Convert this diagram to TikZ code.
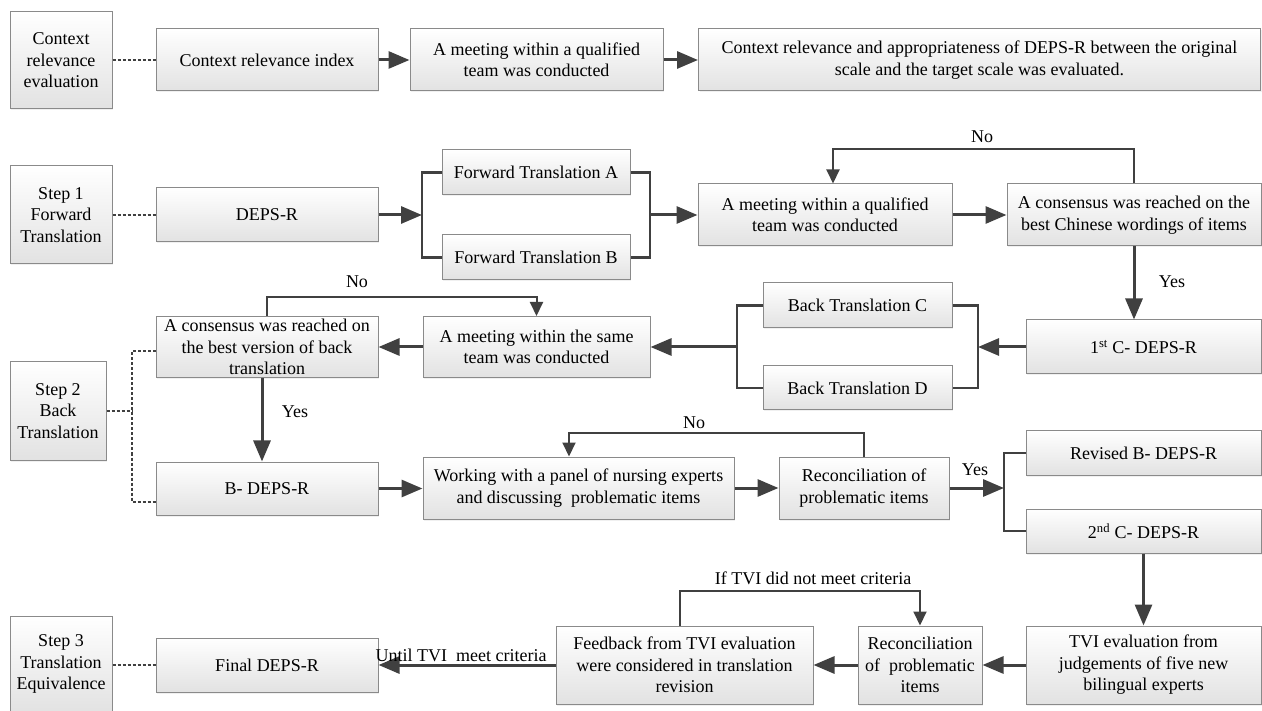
\documentclass[tikz,border=0pt]{standalone}
\usepackage{fontspec}
\setmainfont{Liberation Serif}
\usetikzlibrary{arrows.meta,shadows}
\definecolor{arr}{HTML}{404040}
\definecolor{bord}{HTML}{8A8A8A}
\definecolor{bfill}{HTML}{E2E2E2}
\tikzset{
 box/.style={draw=bord, line width=1pt, top color=white, bottom color=bfill, align=center, inner sep=1pt,
   font=\fontsize{18}{21.5}\selectfont,
   drop shadow={shadow xshift=1pt, shadow yshift=-1.5pt, opacity=0.12}},
 flow/.style={draw=arr, line width=3pt, -{Triangle[length=21pt,width=17pt]}},
 loopar/.style={draw=arr, line width=2pt, -{Triangle[length=14pt,width=13pt]}},
 brk/.style={draw=arr, line width=2.5pt},
 dotline/.style={draw=arr, line width=1.5pt, dash pattern=on 3pt off 2pt},
 lbl/.style={font=\fontsize{18}{21.5}\selectfont, inner sep=1pt}
}
\begin{document}
\begin{tikzpicture}[x=1pt,y=-1pt]
\useasboundingbox (0,0) rectangle (1262,711);
% row 0
\node[box, minimum width=102pt, minimum height=97pt] (cre) at (61,60.5) {Context\\relevance\\evaluation};
\node[box, minimum width=222pt, minimum height=62pt] (cri) at (267,60) {Context relevance index};
\node[box, minimum width=253pt, minimum height=62pt] (meet1) at (536.5,60) {A meeting within a qualified\\team was conducted};
\node[box, minimum width=562pt, minimum height=62pt] (big) at (979.5,60) {Context relevance and appropriateness of DEPS-R between the original\\scale and the target scale was evaluated.};
% row 1
\node[box, minimum width=102pt, minimum height=98pt] (s1) at (61,215) {Step 1\\Forward\\Translation};
\node[box, minimum width=222pt, minimum height=54pt] (deps) at (267,215) {DEPS-R};
\node[box, minimum width=188pt, minimum height=45pt] (fta) at (536,172.5) {Forward Translation A};
\node[box, minimum width=188pt, minimum height=45pt] (ftb) at (536,257.5) {Forward Translation B};
\node[box, minimum width=254pt, minimum height=62pt] (meet2) at (825,215) {A meeting within a qualified\\team was conducted};
\node[box, minimum width=254pt, minimum height=62pt] (cons1) at (1134,215) {A consensus was reached on the\\best Chinese wordings of items};
% row 2
\node[box, minimum width=235pt, minimum height=54pt] (c1) at (1143.5,347) {1\textsuperscript{st} C- DEPS-R};
\node[box, minimum width=189pt, minimum height=45pt] (btc) at (857.5,305.5) {Back Translation C};
\node[box, minimum width=189pt, minimum height=44pt] (btd) at (857.5,388) {Back Translation D};
\node[box, minimum width=227pt, minimum height=61pt] (msame) at (536.5,347) {A meeting within the same\\team was conducted};
\node[box, minimum width=222pt, minimum height=61pt] (cons2) at (267,347) {A consensus was reached on\\the best version of back\\translation};
\node[box, minimum width=96pt, minimum height=98pt] (s2) at (58,411) {Step 2\\Back\\Translation};
% row 3
\node[box, minimum width=222pt, minimum height=53pt] (bdeps) at (267,488.5) {B- DEPS-R};
\node[box, minimum width=311pt, minimum height=62pt] (work) at (578.5,488) {Working with a panel of nursing experts\\and discussing\ \ problematic items};
\node[box, minimum width=170pt, minimum height=62pt] (rec1) at (864,488) {Reconciliation of\\problematic items};
\node[box, minimum width=235pt, minimum height=44pt] (rev) at (1143.5,453) {Revised B- DEPS-R};
\node[box, minimum width=235pt, minimum height=44pt] (c2) at (1143.5,531) {2\textsuperscript{nd} C- DEPS-R};
% row 4
\node[box, minimum width=235pt, minimum height=78pt] (tvi) at (1143.5,665) {TVI evaluation from\\judgements of five new\\bilingual experts};
\node[box, minimum width=124pt, minimum height=78pt] (rec2) at (920,665) {Reconciliation\\of\ \ problematic\\items};
\node[box, minimum width=257pt, minimum height=78pt] (fb) at (684.5,665) {Feedback from TVI evaluation\\were considered in translation\\revision};
\node[box, minimum width=222pt, minimum height=54pt] (fin) at (267,665) {Final DEPS-R};
\node[box, minimum width=102pt, minimum height=96pt] (s3) at (61,664) {Step 3\\Translation\\Equivalence};
% connectors row 0
\draw[dotline] (cri.west -| cre.east) -- (cri.west);
\draw[flow] (cri) -- (meet1);
\draw[flow] (meet1) -- (big);
% row 1
\draw[dotline] (deps.west -| s1.east) -- (deps.west);
\coordinate (bl1) at (422,215);
\coordinate (br1) at (650,215);
\draw[flow] (deps.east) -- (bl1);
\draw[brk] (fta.west) -| (bl1) |- (ftb.west);
\draw[brk] (fta.east) -| (br1) |- (ftb.east);
\draw[flow] (br1) -- (meet2.west);
\draw[flow] (meet2) -- (cons1);
\coordinate (n1) at (833,149);
\draw[loopar] (cons1.north) |- (n1) -- (n1 |- meet2.north);
\node[lbl] (no1) at (982,137) {No};
\draw[flow] (cons1.south) -- (cons1.south |- c1.north);
\node[lbl] (yes1) at (1172,282) {Yes};
% row 2
\coordinate (br2) at (978,347);
\coordinate (bl2) at (737,347);
\draw[flow] (c1.west) -- (br2);
\draw[brk] (btc.east) -| (br2) |- (btd.east);
\draw[brk] (btc.west) -| (bl2) |- (btd.west);
\draw[flow] (bl2) -- (msame.east);
\draw[flow] (msame) -- (cons2);
\coordinate (n2) at (400,297);
\draw[loopar] (cons2.north) |- (n2) -| (msame.north);
\node[lbl] (no2) at (357,282) {No};
\coordinate (yx) at (262,0);
\draw[flow] (yx |- cons2.south) -- (yx |- bdeps.north);
\node[lbl] (yes2) at (295,412) {Yes};
\coordinate (d2) at (132,411);
\coordinate (d2t) at (132,351);
\coordinate (d2b) at (132,502);
\draw[dotline] (s2.east) -- (d2);
\draw[dotline] (cons2.west |- d2t) -- (d2t) -- (d2b) -- (bdeps.west |- d2b);
% row 3
\draw[flow] (bdeps.east) -- (bdeps.east -| work.west);
\draw[flow] (work) -- (rec1);
\coordinate (n3) at (569,433);
\draw[loopar] (rec1.north) |- (n3) -- (n3 |- work.north);
\node[lbl] (no3) at (694,423) {No};
\coordinate (br3) at (1004,488);
\draw[flow] (rec1.east) -- (br3);
\node[lbl] (yes3) at (975,470) {Yes};
\draw[brk] (rev.west) -| (br3) |- (c2.west);
% row 4
\draw[flow] (c2) -- (tvi);
\draw[flow] (tvi) -- (rec2);
\draw[flow] (rec2) -- (fb);
\coordinate (n4) at (680,591);
\draw[loopar] (n4 |- fb.north) -- (n4) -| (rec2.north);
\node[lbl] (iftvi) at (813,578) {If TVI did not meet criteria};
\draw[flow] (fb) -- (fin) node[lbl, midway, anchor=south, inner sep=2pt, xshift=-6pt] (until) {Until TVI\ \ meet criteria};
\draw[dotline] (fin.west -| s3.east) -- (fin.west);
\end{tikzpicture}
\end{document}
